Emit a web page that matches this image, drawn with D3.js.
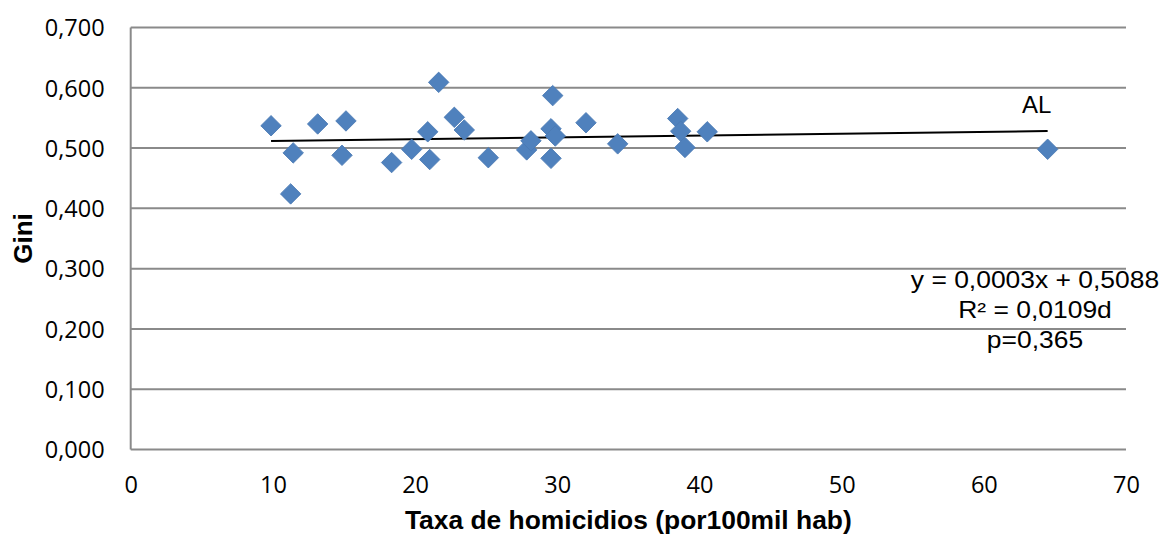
<!DOCTYPE html>
<html>
<head>
<meta charset="utf-8">
<script src="https://cdn.jsdelivr.net/npm/d3@7/dist/d3.min.js"></script>
<style>
  html, body { margin: 0; padding: 0; background: #fff; }
  svg { display: block; }
</style>
</head>
<body>
<svg id="chart" width="1164" height="538"></svg>
<script>
// ---- Data ----
const homicideRate = [9.87, 11.43, 11.25, 13.15, 15.14, 14.86, 18.35, 19.76, 20.89, 21.03,
  21.66, 22.76, 23.46, 25.15, 27.85, 28.15, 29.68, 29.56, 29.86, 29.56,
  32.02, 34.25, 38.47, 38.68, 38.98, 40.55, 64.49];
const gini = [0.537, 0.492, 0.424, 0.540, 0.545, 0.488, 0.476, 0.498, 0.527, 0.481,
  0.609, 0.551, 0.530, 0.484, 0.497, 0.512, 0.587, 0.532, 0.520, 0.483,
  0.542, 0.507, 0.549, 0.528, 0.501, 0.527, 0.498];
const xTicks = [0, 10, 20, 30, 40, 50, 60, 70];
const yTicks = [0, 0.1, 0.2, 0.3, 0.4, 0.5, 0.6, 0.7];
const trendSlope = 0.0003;
const trendIntercept = 0.5088;
const equationLines = ["y = 0,0003x + 0,5088", "R² = 0,0109d", "p=0,365"];
const pointLabel = "AL";
const xTitle = "Taxa de homicidios (por100mil hab)";
const yTitle = "Gini";

// ---- Layout ----
const svg = d3.select("#chart");
const pLeft = 130.7, pRight = 1126, pTop = 27.5, pBottom = 449.5;

const x = d3.scaleLinear().domain([0, 70]).range([pLeft, pRight]);
const y = d3.scaleLinear().domain([0, 0.7]).range([pBottom, pTop]);

const gridColor = "#8a8a8a";

// Gridlines
svg.append("g")
  .selectAll("line")
  .data(yTicks)
  .join("line")
  .attr("x1", pLeft).attr("x2", pRight)
  .attr("y1", d => y(d)).attr("y2", d => y(d))
  .attr("stroke", gridColor)
  .attr("stroke-width", 2);

// Left axis line
svg.append("line")
  .attr("x1", pLeft).attr("x2", pLeft)
  .attr("y1", pTop).attr("y2", pBottom)
  .attr("stroke", gridColor).attr("stroke-width", 2);

// Y axis
const yAxis = d3.axisLeft(y).tickValues(yTicks).tickSize(0).tickPadding(26)
  .tickFormat(d => d3.format(".3f")(d).replace(".", ","));
const gy = svg.append("g").attr("transform", `translate(${pLeft},0)`).call(yAxis);
gy.select(".domain").remove();
gy.selectAll("text")
  .attr("font-family", "'Open Sans', sans-serif")
  .attr("font-size", 23.5)
  .attr("fill", "#000")
  .attr("dy", "0.35em");

// X axis
const xAxis = d3.axisBottom(x).tickValues(xTicks).tickSize(0).tickPadding(35)
  .tickFormat(d => String(d));
const gx = svg.append("g").attr("transform", `translate(0,${pBottom})`).call(xAxis);
gx.select(".domain").remove();
gx.selectAll("text")
  .attr("font-family", "'Open Sans', sans-serif")
  .attr("font-size", 23.5)
  .attr("fill", "#000")
  .attr("dy", "0.35em");

// Axis titles
svg.append("text")
  .attr("x", (pLeft + pRight) / 2).attr("y", 528.5)
  .attr("text-anchor", "middle")
  .attr("font-family", "'Liberation Sans', Arial, sans-serif")
  .attr("font-weight", "bold")
  .attr("font-size", 26.4)
  .text(xTitle);

svg.append("text")
  .attr("transform", `translate(31.5,${(pTop + pBottom) / 2}) rotate(-90)`)
  .attr("text-anchor", "middle")
  .attr("font-family", "'Liberation Sans', Arial, sans-serif")
  .attr("font-weight", "bold")
  .attr("font-size", 26)
  .text(yTitle);

// Trend line
const xMin = d3.min(homicideRate), xMax = d3.max(homicideRate);
svg.append("line")
  .attr("x1", x(xMin)).attr("y1", y(trendSlope * xMin + trendIntercept))
  .attr("x2", x(xMax)).attr("y2", y(trendSlope * xMax + trendIntercept))
  .attr("stroke", "#000").attr("stroke-width", 2);

// Points
const diamond = d3.symbol().type(d3.symbolSquare).size(210);
svg.append("g")
  .selectAll("path")
  .data(homicideRate.map((v, i) => [v, gini[i]]))
  .join("path")
  .attr("d", diamond)
  .attr("transform", d => `translate(${x(d[0])},${y(d[1])}) rotate(45)`)
  .attr("fill", "#4F81BD")
  .attr("stroke", "#4a7ab3")
  .attr("stroke-width", 0.8);

// Point label
svg.append("text")
  .attr("x", 1036.7).attr("y", 113)
  .attr("text-anchor", "middle")
  .attr("font-family", "'Liberation Sans', Arial, sans-serif")
  .attr("font-size", 24)
  .text(pointLabel);

// Equation block
const eqX = 1035;
const eqG = svg.append("g").attr("transform", `translate(${eqX},0) scale(1.15,1)`);
eqG.selectAll("text")
  .data(equationLines)
  .join("text")
  .attr("x", 0)
  .attr("y", (d, i) => 288.3 + i * 30)
  .attr("text-anchor", "middle")
  .attr("font-family", "'Liberation Sans', Arial, sans-serif")
  .attr("font-size", 23)
  .attr("fill", "#000")
  .text(d => d);
</script>
</body>
</html>
